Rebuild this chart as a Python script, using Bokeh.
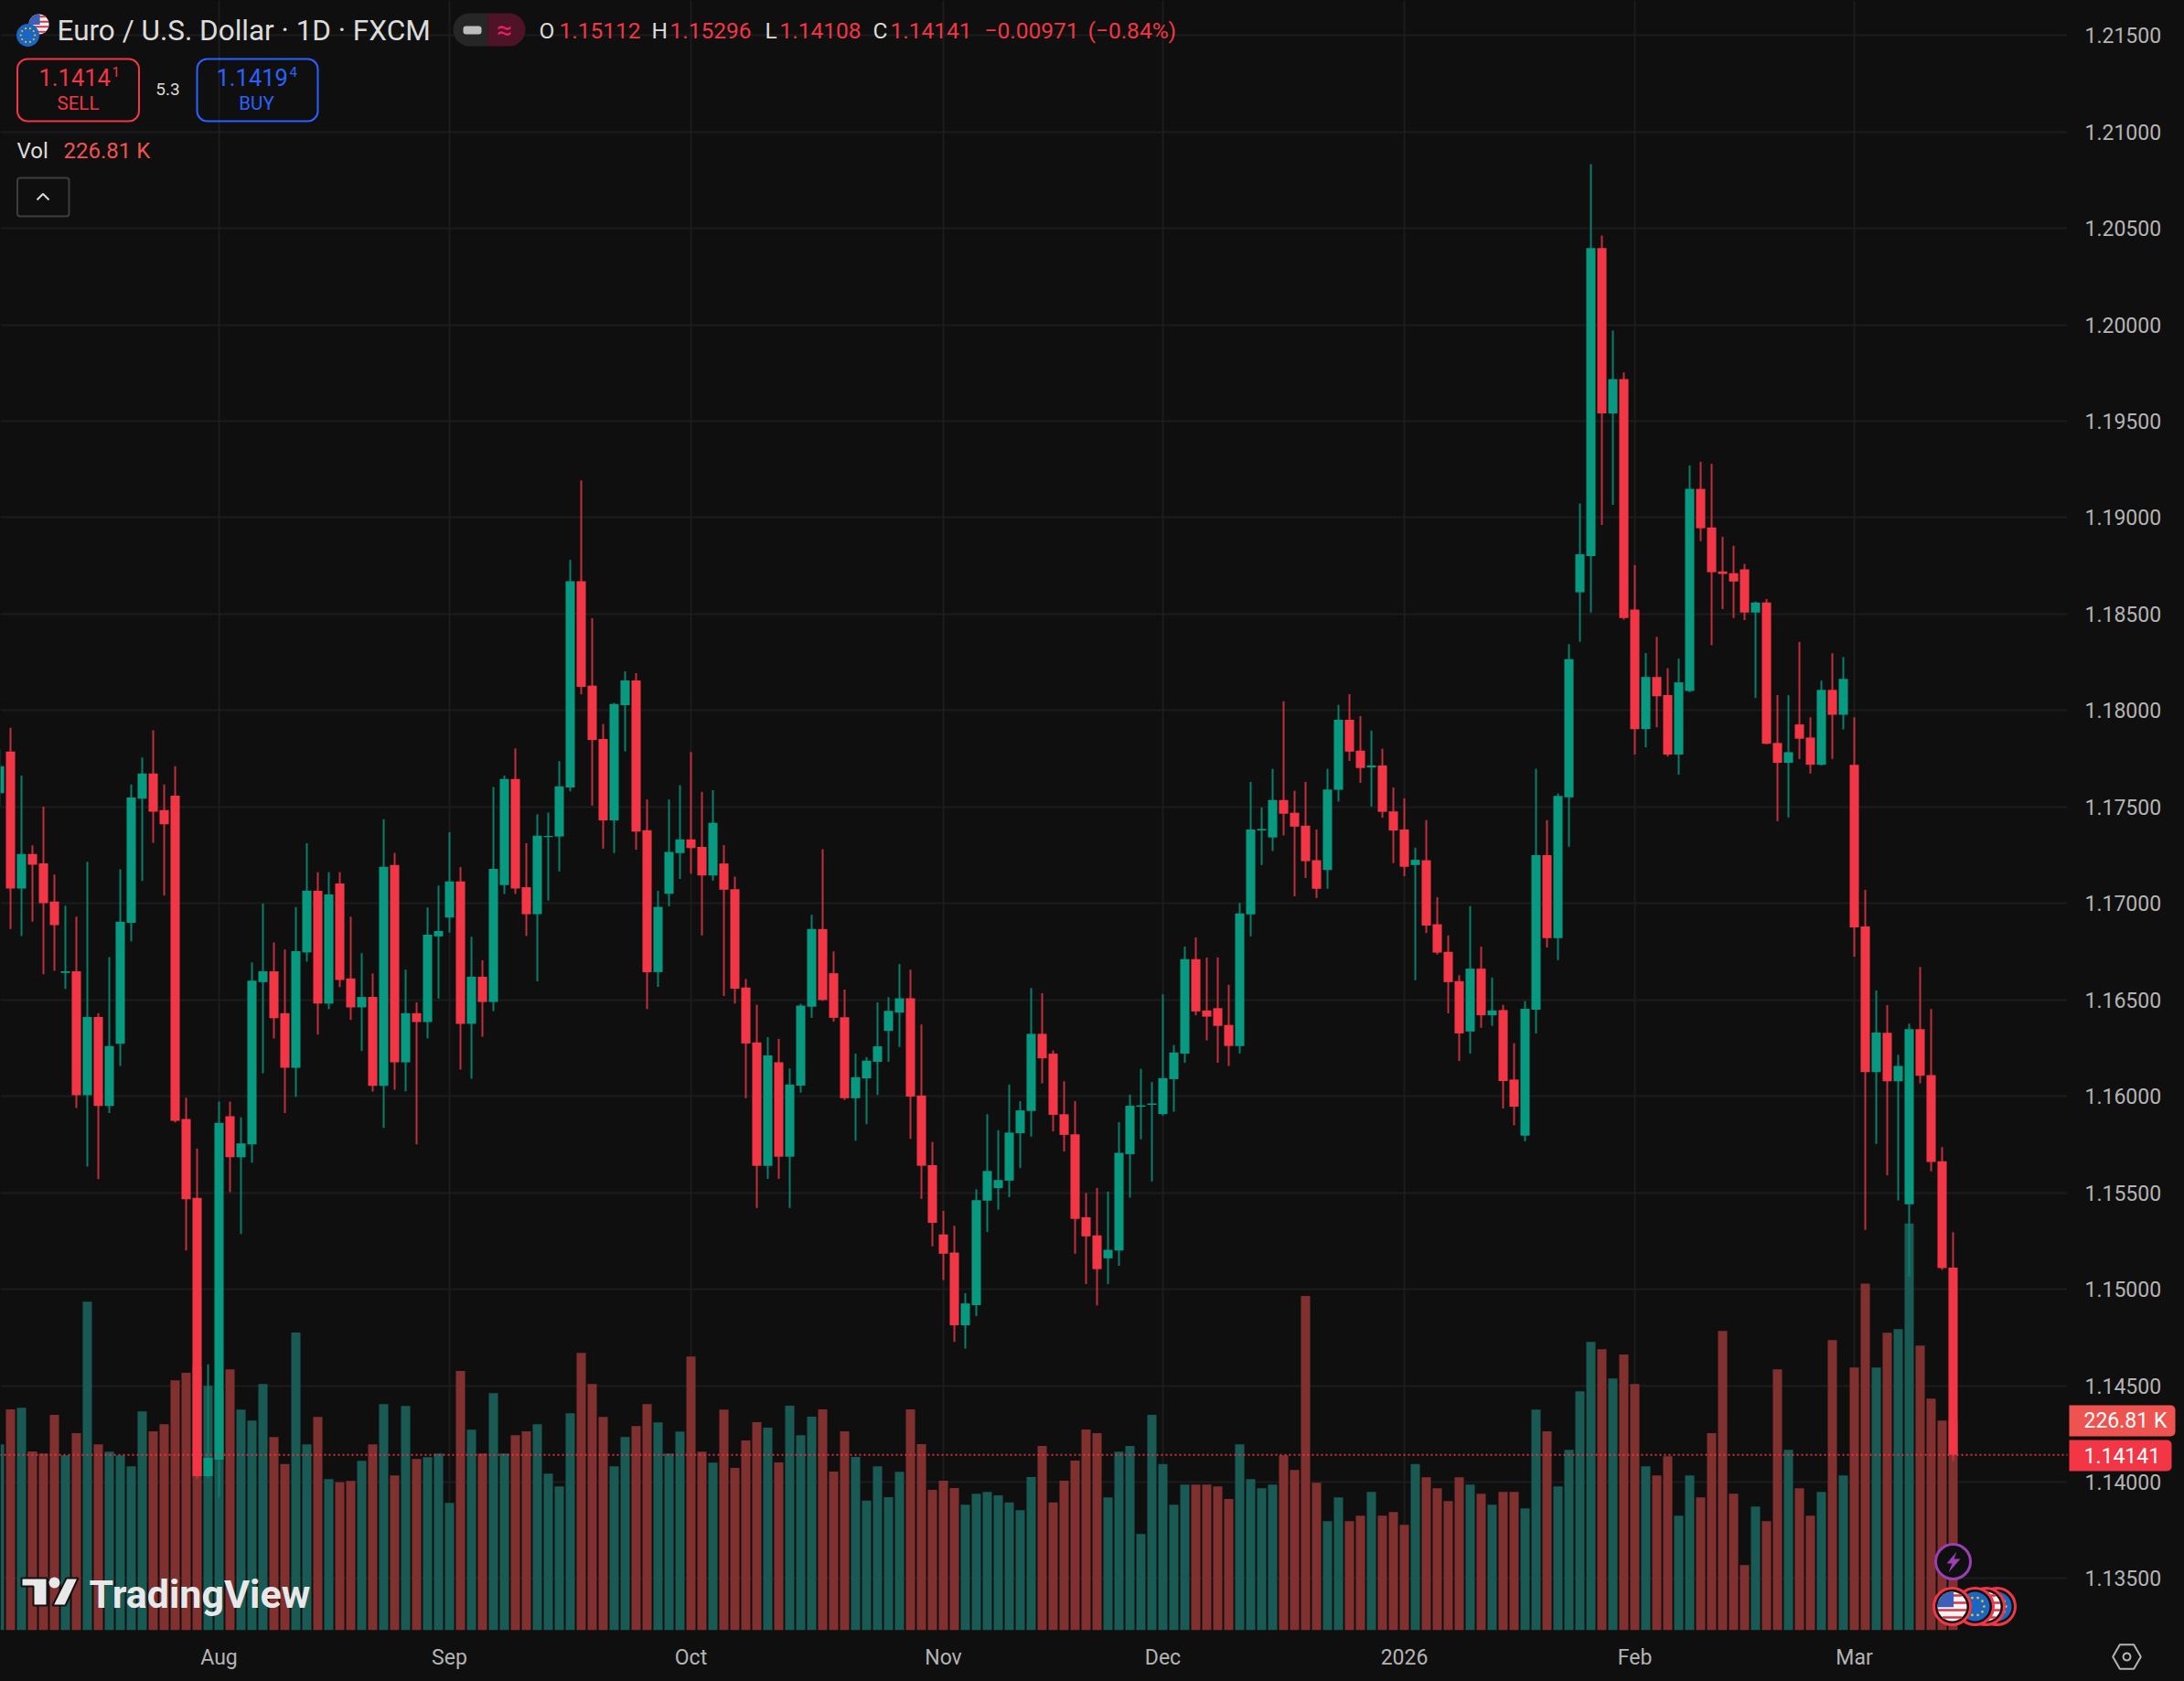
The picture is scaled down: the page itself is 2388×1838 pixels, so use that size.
from math import sqrt, cos, sin, pi
from bokeh.plotting import figure
from bokeh.embed import file_html
from bokeh.resources import INLINE
from bokeh.models import Range1d, FixedTicker, Label, BoxAnnotation, ColumnDataSource

open_ = [1.17571,1.17787,1.17077,1.17256,1.17208,1.17010,1.16640,1.16648,1.16006,1.16411,
1.15950,1.16272,1.16899,1.17543,1.17673,1.17484,1.17558,1.15882,1.15473,1.14031,
1.14116,1.15897,1.15684,1.15751,1.16592,1.16648,1.16431,1.16148,1.16746,1.17066,
1.16481,1.17103,1.16611,1.16461,1.16515,1.16054,1.17199,1.16176,1.16431,1.16385,
1.16829,1.16927,1.17114,1.16376,1.16620,1.16489,1.17095,1.17645,1.17084,1.16944,
1.17344,1.17347,1.17601,1.18671,1.18129,1.17853,1.17430,1.18028,1.18156,1.17379,
1.16644,1.17050,1.17261,1.17332,1.17293,1.17145,1.17207,1.17074,1.16564,1.16280,
1.15640,1.16176,1.15687,1.16055,1.16464,1.16867,1.16638,1.16410,1.15990,1.16093,
1.16179,1.16339,1.16434,1.16508,1.16004,1.15643,1.15284,1.15190,1.14813,1.14917,
1.15459,1.15524,1.15563,1.15809,1.15924,1.16324,1.16221,1.15907,1.15803,1.15373,
1.15279,1.15160,1.15201,1.15700,1.15946,1.15956,1.15908,1.16089,1.16222,1.16711,
1.16445,1.16457,1.16370,1.16261,1.16943,1.17378,1.17342,1.17536,1.17470,1.17403,
1.17224,1.17173,1.17589,1.17952,1.17792,1.17705,1.17715,1.17477,1.17383,1.17199,
1.17224,1.16892,1.16749,1.16597,1.16336,1.16662,1.16420,1.16447,1.16087,1.15796,
1.16449,1.17250,1.16820,1.17550,1.18613,1.18801,1.20398,1.19540,1.19718,1.18523,
1.17904,1.18174,1.18080,1.17772,1.18102,1.19149,1.18949,1.18721,1.18712,1.18732,
1.18508,1.18560,1.17832,1.17729,1.17928,1.17860,1.17719,1.18107,1.17978,1.17719,
1.16881,1.16126,1.16329,1.16078,1.15440,1.16348,1.16110,1.15663,1.15112]

high = [1.17800,1.17911,1.17663,1.17301,1.17502,1.17149,1.16988,1.16931,1.17216,1.16431,
1.16722,1.17177,1.17617,1.17756,1.17898,1.17617,1.17711,1.15993,1.15730,1.14610,
1.15973,1.15973,1.15891,1.16694,1.16999,1.16798,1.16761,1.16981,1.17312,1.17162,
1.17162,1.17162,1.16931,1.16742,1.16637,1.17436,1.17262,1.16657,1.16487,1.16979,
1.17093,1.17369,1.17188,1.16827,1.16705,1.17604,1.17663,1.17804,1.17312,1.17462,
1.17471,1.17738,1.18781,1.19193,1.18479,1.17930,1.18040,1.18203,1.18194,1.17539,
1.17065,1.17539,1.17613,1.17785,1.17578,1.17587,1.17302,1.17139,1.16609,1.16475,
1.16307,1.16298,1.16144,1.16480,1.16941,1.17281,1.16751,1.16553,1.16221,1.16203,
1.16487,1.16514,1.16686,1.16656,1.16372,1.15764,1.15406,1.15329,1.14979,1.15518,
1.15907,1.15824,1.16061,1.15975,1.16561,1.16535,1.16238,1.16078,1.15975,1.15499,
1.15525,1.15506,1.15866,1.16009,1.16142,1.16074,1.16529,1.16266,1.16776,1.16824,
1.16720,1.16720,1.16578,1.17003,1.17630,1.17497,1.17698,1.18048,1.17584,1.17630,
1.17383,1.17698,1.18029,1.18085,1.17971,1.17896,1.17802,1.17601,1.17545,1.17289,
1.17432,1.17032,1.16834,1.16628,1.16986,1.16776,1.16616,1.16474,1.16275,1.16493,
1.17698,1.17432,1.17570,1.18344,1.19073,1.20832,1.20463,1.19970,1.19753,1.18754,
1.18298,1.18382,1.18219,1.18269,1.19271,1.19290,1.19279,1.18901,1.18854,1.18760,
1.18565,1.18578,1.18080,1.18079,1.18356,1.17965,1.18155,1.18297,1.18277,1.17965,
1.17070,1.16549,1.16473,1.16215,1.16377,1.16671,1.16453,1.15737,1.15296]

low = [1.17500,1.16868,1.16831,1.16905,1.16633,1.16650,1.16557,1.15939,1.15636,1.15571,
1.15913,1.16158,1.16803,1.17116,1.17314,1.17040,1.15865,1.15201,1.14017,1.14021,
1.13922,1.15503,1.15286,1.15656,1.16119,1.16300,1.15913,1.15997,1.16698,1.16320,
1.16452,1.16566,1.16396,1.16235,1.16024,1.15836,1.16034,1.16026,1.15751,1.16300,
1.16507,1.16849,1.16139,1.16091,1.16309,1.16441,1.17049,1.17049,1.16831,1.16596,
1.17015,1.17166,1.17581,1.18084,1.17507,1.17284,1.17261,1.17788,1.17278,1.16452,
1.16567,1.16985,1.17127,1.17154,1.16834,1.17118,1.16520,1.16481,1.15990,1.15421,
1.15572,1.15572,1.15421,1.16019,1.16407,1.16495,1.16387,1.15981,1.15770,1.15856,
1.16007,1.16179,1.16256,1.15779,1.15468,1.15222,1.15047,1.14727,1.14692,1.14861,
1.15296,1.15412,1.15477,1.15628,1.15791,1.16067,1.15818,1.15714,1.15184,1.15027,
1.14916,1.15027,1.15121,1.15475,1.15777,1.15559,1.15900,1.15920,1.16174,1.16420,
1.16290,1.16174,1.16157,1.16222,1.16829,1.17199,1.17272,1.17352,1.17037,1.17132,
1.17028,1.17076,1.17528,1.17739,1.17625,1.17502,1.17444,1.17209,1.17141,1.16602,
1.16846,1.16735,1.16430,1.16183,1.16222,1.16355,1.16365,1.15937,1.15850,1.15767,
1.16326,1.16771,1.16706,1.17294,1.18356,1.18508,1.18962,1.19066,1.18471,1.17772,
1.17809,1.17913,1.17761,1.17668,1.18095,1.18878,1.18339,1.18526,1.18480,1.18469,
1.18065,1.17825,1.17426,1.17446,1.17749,1.17673,1.17715,1.17749,1.17902,1.16724,
1.15307,1.15753,1.15591,1.15460,1.15067,1.16067,1.15611,1.15100,1.14108]

close = [1.17711,1.17077,1.17256,1.17201,1.17001,1.16888,1.16648,1.16006,1.16411,1.15950,
1.16261,1.16905,1.17549,1.17673,1.17475,1.17410,1.15873,1.15466,1.14031,1.14126,
1.15862,1.15684,1.15756,1.16600,1.16648,1.16405,1.16148,1.16753,1.17066,1.16481,
1.17047,1.16603,1.16461,1.16515,1.16054,1.17190,1.16176,1.16431,1.16385,1.16838,
1.16857,1.17114,1.16376,1.16620,1.16489,1.17179,1.17645,1.17077,1.16944,1.17351,
1.17350,1.17607,1.18671,1.18123,1.17847,1.17430,1.18034,1.18156,1.17373,1.16644,
1.16982,1.17267,1.17332,1.17287,1.17145,1.17418,1.17071,1.16558,1.16274,1.15640,
1.16212,1.15687,1.16061,1.16470,1.16867,1.16499,1.16407,1.15990,1.16099,1.16185,
1.16259,1.16443,1.16508,1.15998,1.15640,1.15344,1.15184,1.14813,1.14926,1.15462,
1.15613,1.15566,1.15812,1.15927,1.16324,1.16197,1.15904,1.15800,1.15364,1.15274,
1.15104,1.15204,1.15707,1.15951,1.15953,1.15963,1.16094,1.16227,1.16711,1.16440,
1.16413,1.16365,1.16261,1.16948,1.17383,1.17386,1.17536,1.17465,1.17398,1.17219,
1.17076,1.17591,1.17952,1.17787,1.17702,1.17715,1.17475,1.17378,1.17190,1.17226,
1.16885,1.16745,1.16592,1.16326,1.16662,1.16420,1.16445,1.16079,1.15946,1.16454,
1.17250,1.16820,1.17557,1.18266,1.18810,1.20398,1.19540,1.19718,1.18480,1.17904,
1.18174,1.18074,1.17772,1.18146,1.19149,1.18945,1.18717,1.18708,1.18669,1.18508,
1.18560,1.17828,1.17729,1.17784,1.17854,1.17719,1.18107,1.17978,1.18164,1.16876,
1.16126,1.16331,1.16078,1.16158,1.16348,1.16106,1.15659,1.15109,1.14141]

volume_k = [201.3,239.3,240.9,193.7,191.4,233.3,189.4,213.5,355.7,201.3,
193.4,189.4,177.5,236.9,215.5,223.1,270.6,278.9,285.5,264.7,
259.1,282.5,238.9,227.0,266.6,209.2,179.9,322.4,201.3,231.0,
163.7,160.1,161.7,183.5,201.3,244.9,167.6,242.9,185.5,187.4,
191.4,137.9,280.8,217.1,191.4,256.7,191.4,211.2,215.5,223.1,
169.6,155.8,235.0,300.3,266.6,231.0,177.5,209.2,221.1,244.9,
225.1,191.4,215.2,296.3,193.4,181.5,238.9,175.9,205.6,225.4,
219.5,181.8,243.2,211.2,231.3,239.3,171.9,215.5,187.8,140.3,
177.5,144.2,171.6,239.3,201.6,152.1,162.0,154.1,136.0,147.8,
149.8,146.2,138.3,130.0,166.0,199.7,138.3,162.0,183.8,217.5,
213.5,143.9,193.4,199.7,104.3,233.3,179.9,136.0,157.7,157.7,
157.7,155.8,142.2,201.3,163.7,153.8,157.7,189.4,173.6,362.0,
159.7,118.1,143.9,118.1,124.1,149.8,124.1,128.0,114.2,179.9,
165.7,153.8,139.9,165.7,157.7,147.8,136.0,149.8,149.8,132.0,
238.9,215.5,155.8,195.4,258.7,312.2,304.3,272.6,298.7,266.6,
177.5,167.6,188.4,124.1,167.6,143.9,213.5,324.1,147.8,70.6,
134.0,118.1,282.5,195.4,153.8,124.1,149.8,314.2,167.6,284.5,
375.5,284.5,322.1,326.0,440.6,308.2,250.8,227.0,226.81]

month_bars = [20, 41, 63, 86, 106, 128, 149, 169]
month_labels = ["Aug", "Sep", "Oct", "Nov", "Dec", "2026", "Feb", "Mar"]
price_ticks = [1.135, 1.14, 1.145, 1.15, 1.155, 1.16, 1.165, 1.17, 1.175, 1.18,
               1.185, 1.19, 1.195, 1.2, 1.205, 1.21, 1.215]
last_close = close[-1]
assert len(open_) == len(high) == len(low) == len(close) == len(volume_k) == 179

BG = "#0f0f0f"
UP, DOWN = "#089981", "#f23645"
UP_W, DOWN_W = "#087f6d", "#c32e3c"
VUP, VDOWN = "#1a5a54", "#7f302f"
GRID = "#1c1c1c"
TXT = "#dbdbdb"
AXT = "#b4b4b4"
FONT = "Roboto"

FW, FH = 2260, 1782
p = figure(frame_width=FW, frame_height=FH, min_border_left=0, min_border_top=0,
           min_border_right=128, min_border_bottom=56,
           x_range=Range1d(1/12, (FW + 1)/12), y_range=Range1d(1.132319, 1.216813),
           y_axis_location="right", toolbar_location=None, output_backend="svg",
           background_fill_color=BG, border_fill_color=BG, outline_line_color=None)
p.extra_y_ranges = {"vol": Range1d(0, 1765), "py": Range1d(FH, 0)}
p.extra_x_ranges = {"px": Range1d(0, FW)}

xa, ya = p.xaxis[0], p.yaxis[0]
xa.ticker = FixedTicker(ticks=month_bars)
xa.major_label_overrides = dict(zip(month_bars, month_labels))
ya.ticker = FixedTicker(ticks=price_ticks)
ya.major_label_overrides = {t: f"{t:.5f}" for t in price_ticks}
for a, standoff in ((xa, 10), (ya, 13)):
    a.axis_line_color = None
    a.major_tick_line_color = None
    a.minor_tick_line_color = None
    a.major_label_text_color = AXT
    a.major_label_text_font = FONT
    a.major_label_text_font_size = "23px"
    a.major_label_standoff = standoff
p.xgrid[0].ticker = FixedTicker(ticks=month_bars)
p.ygrid[0].ticker = FixedTicker(ticks=price_ticks)
for g in (p.xgrid[0], p.ygrid[0]):
    g.grid_line_color = GRID
    g.grid_line_width = 2

idx = list(range(len(close)))
up = [c >= o for o, c in zip(open_, close)]
src = ColumnDataSource(dict(
    x=idx, o=open_, h=high, l=low, c=close, v=volume_k,
    top=[max(a, b) for a, b in zip(open_, close)],
    bot=[min(a, b) for a, b in zip(open_, close)],
    body=[UP if u else DOWN for u in up],
    wick=[UP_W if u else DOWN_W for u in up],
    vc=[VUP if u else VDOWN for u in up]))

p.vbar(x="x", top="v", bottom=0, width=0.84, source=src, fill_color="vc", line_color=None,
       y_range_name="vol")
p.segment(x0="x", x1="x", y0="h", y1="l", source=src, line_color="wick", line_width=2)
p.vbar(x="x", top="top", bottom="bot", width=0.84, source=src, fill_color="body", line_color=None)
p.line([0, 188.5], [last_close, last_close], line_color=DOWN, line_width=2, line_dash="2 3", line_alpha=0.85)

PX = dict(x_range_name="px", y_range_name="py")


def label(x, y, text, color=TXT, size=24, align="left", style="normal", fig=None, kw=PX):
    (fig or p).add_layout(Label(x=x, y=y, text=text, text_color=color, text_font=FONT,
                                text_font_size=f"{size}px", text_align=align, text_baseline="middle",
                                text_font_style=style, **kw))


def box(l, t, r, b, fill=None, line=None, lw=2, radius=0, fig=None, kw=PX):
    (fig or p).add_layout(BoxAnnotation(left=l, right=r, top=t, bottom=b, fill_color=fill,
                                        fill_alpha=1 if fill else 0, line_color=line, line_width=lw,
                                        line_alpha=1 if line else 0, border_radius=radius, **kw))


def disc(x, y, r, fill, line=None, lw=0):
    p.scatter([x], [y], size=2*r, marker="circle", fill_color=fill, line_color=line, line_width=lw, **PX)


def us_flag(cx, cy, r):
    disc(cx, cy, r, "#f4f4f4")
    for k in range(-3, 4, 2):
        dy = k*r/4.0
        half = sqrt(max(r*r - dy*dy, 0))
        p.segment([cx - half], [cy + dy], [cx + half], [cy + dy], line_color="#d8344a",
                  line_width=max(1.5, r/6), **PX)
    arc = [(cx + r*cos(a*pi/180), cy + r*sin(a*pi/180)) for a in range(180, 271, 15)]
    pts = [(cx + r*0.1, cy + r*0.05), (cx + r*0.1, cy - r*0.99)] + arc[::-1] + [(cx - r, cy + r*0.05)]
    p.patch([a for a, _ in pts], [b for _, b in pts], fill_color="#3d5fb8", line_color=None, **PX)


def eu_flag(cx, cy, r):
    disc(cx, cy, r, "#1a66c2")
    n = 10
    p.scatter([cx + 0.62*r*cos(2*pi*k/n) for k in range(n)],
              [cy + 0.62*r*sin(2*pi*k/n) for k in range(n)],
              size=max(1.6, r/6), marker="circle", fill_color="#f5c518", line_color=None, **PX)


# Header
us_flag(42, 26, 11)
eu_flag(30, 38, 12.5)
label(62, 33, "Euro / U.S. Dollar · 1D · FXCM", size=31.5)
box(495, 14, 533, 50, fill="#262626", radius=(18, 0, 0, 18))
box(533, 14, 574, 50, fill="#4f1328", radius=(0, 18, 18, 0))
box(506, 28, 526, 37, fill="#bdbdbd", radius=3)
label(551, 32, "≈", color="#e91e63", size=30, align="center")
ohlc = [(589, "O", 611, "1.15112"), (712, "H", 732, "1.15296"),
        (836, "L", 852, "1.14108"), (954, "C", 973, "1.14141")]
for lx, letter, vx, val in ohlc:
    label(lx, 33, letter, size=24.5)
    label(vx, 33, val, color=DOWN, size=24.5)
label(1076, 33, "−0.00971", color=DOWN, size=24.5)
label(1189, 33, "(−0.84%)", color=DOWN, size=24.5)

# Buy / sell
box(18.5, 64, 151.5, 132, line=DOWN, radius=11)
box(215, 64, 347, 132, line="#2962ff", radius=11)
label(42, 84, "1.1414", color=DOWN, size=25.5)
label(122, 78, "1", color=DOWN, size=15)
label(85, 112, "SELL", color=DOWN, size=20.5, align="center")
label(183, 97, "5.3", size=19, align="center")
label(236, 84, "1.1419", color="#2962ff", size=25.5)
label(316, 78, "4", color="#2962ff", size=15)
label(280, 112, "BUY", color="#2962ff", size=20.5, align="center")
label(18, 164, "Vol", size=24)
label(69, 164, "226.81 K", color="#ef5350", size=24)
box(18.5, 194, 75, 236, line="#3d3d3d", radius=3)
p.line([40, 46.5, 53], [218, 211.5, 218], line_color=TXT, line_width=2, **PX)

# Watermark
WM = "#e8e8e8"
p.patch([23, 51, 51, 36, 36, 23], [1725, 1725, 1755, 1755, 1734, 1734], fill_color=WM,
        line_color="#101010", line_width=2, **PX)
disc(59, 1730, 6, WM)
p.patch([72, 85, 71, 57], [1725, 1725, 1755, 1755], fill_color=WM, line_color="#101010", line_width=2, **PX)
label(97, 1742, "TradingView", color=WM, size=43, style="bold")

# Events
disc(2135, 1707, 19, BG, "#9c3fb5", 3)
p.patch([2139, 2128, 2134, 2130, 2143, 2136], [1696, 1709, 1709, 1719, 1704, 1704],
        fill_color="#9c3fb5", line_color=None, **PX)
for cx, kind in ((2183, "eu"), (2171, "us"), (2159, "eu"), (2134, "us")):
    disc(cx, 1756, 20, "#101010", DOWN, 3)
    (us_flag if kind == "us" else eu_flag)(cx, 1756, 16)

# A second, transparent figure sits over the price scale for what lies outside the main frame.
OX, OY, OW, OH = 2260, 1530, 128, 308
q = figure(width=OW, height=OH, min_border=0, x_range=Range1d(OX, OX + OW), y_range=Range1d(OY + OH, OY),
           x_axis_location=None, y_axis_location=None, toolbar_location=None, output_backend="svg",
           background_fill_color=None, border_fill_color=None, outline_line_color=None,
           styles={"position": "absolute", "left": f"{OX}px", "top": f"{OY}px"})
q.grid.visible = False
box(2262, 1536, 2378, 1570, fill="#ef5350", radius=(0, 5, 5, 0), fig=q, kw={})
label(2278, 1552.7, "226.81 K", color="#ffffff", size=23, fig=q, kw={})
box(2262, 1574, 2374, 1608, fill=DOWN, radius=(0, 5, 5, 0), fig=q, kw={})
label(2278, 1590.7, "1.14141", color="#ffffff", size=23, fig=q, kw={})
hexa = [(2325 + 15.3*cos(a*pi/3), 1811 + 15.3*sin(a*pi/3)) for a in range(6)]
ring = [(2325 + 4*cos(a*pi/6), 1811 + 4*sin(a*pi/6)) for a in range(12)]
for shape in (hexa, ring):
    q.patch([a for a, _ in shape], [b for _, b in shape], fill_alpha=0, line_color=AXT, line_width=2)

T = "{% block postamble %}<style>html,body{margin:0;padding:0;background:#0f0f0f;overflow:hidden}</style>{% endblock %}"
open("out.html", "w").write(file_html([p, q], INLINE, title="EURUSD", template=T))
